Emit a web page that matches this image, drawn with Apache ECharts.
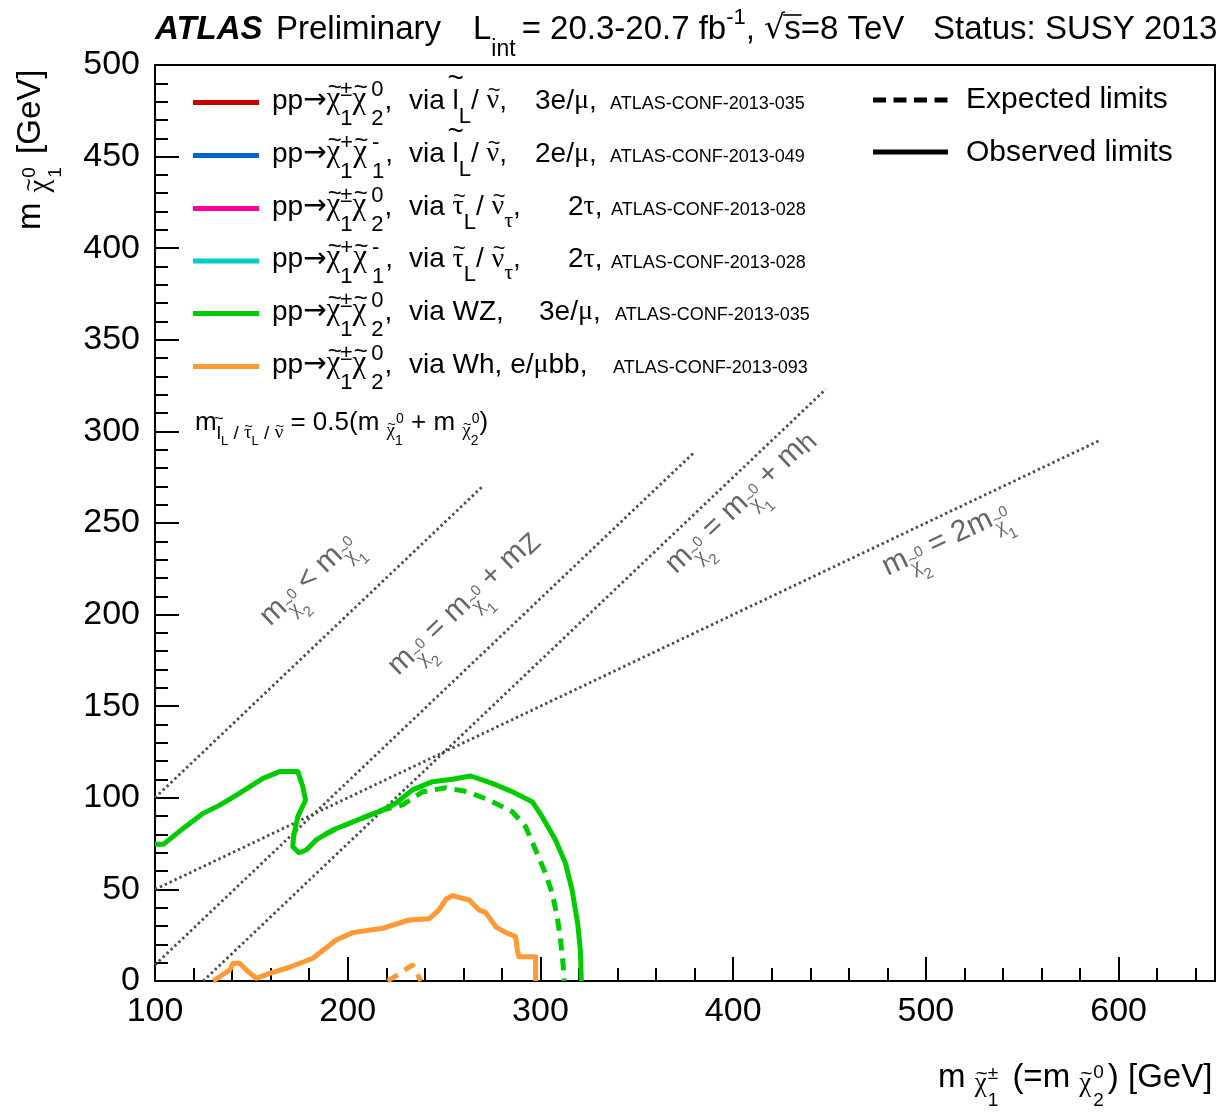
<!DOCTYPE html>
<html>
<head>
<meta charset="utf-8">
<script src="https://cdn.jsdelivr.net/npm/echarts@6/dist/echarts.min.js"></script>
<style>
  html, body { margin: 0; padding: 0; background: #ffffff; }
  #main { width: 1231px; height: 1113px; }
</style>
</head>
<body>
<div id="main"></div>
<script>
// ---- axis ticks (GeV) ----
const xMajorTicks = [100, 200, 300, 400, 500, 600];
const yMajorTicks = [0, 50, 100, 150, 200, 250, 300, 350, 400, 450, 500];

// ---- exclusion contours: [m(chargino) , m(LSP)] in GeV ----
// WZ-mediated, 3 leptons: observed
const wzObserved = [
  [100, 74.6], [104.3, 74.6], [114.6, 83.3], [125, 91.5], [133.6, 96], [142.3, 101.5],
  [156, 110.6], [164.7, 114.3], [174.1, 114.3], [176.7, 106], [178.1, 98.8], [174.1, 89.7],
  [171.9, 78.8], [171.5, 73.3], [174.7, 70], [178.5, 71.5], [183.6, 77], [192.2, 82.4],
  [200.9, 86.1], [209.5, 89.7], [218.1, 93.3], [225, 97], [233.6, 104.3], [244, 108.8],
  [254.3, 110.1], [263.8, 111.9], [275, 107.9], [285.4, 103.3], [295.7, 97.9], [300.9, 89.7],
  [307.8, 77], [313, 64.2], [316.4, 49.7], [319.3, 31.5], [320.7, 16.9], [321.2, 0]
];
// WZ-mediated, 3 leptons: expected
const wzExpected = [
  [188, 80], [200.9, 86.1], [209.5, 89.7], [218.1, 93.3], [228.4, 96.1], [238.8, 103.3],
  [250.9, 105.5], [262.1, 103.3], [273.3, 98.8], [285.4, 92.4], [292.3, 84.2], [297.5, 71.5],
  [302.6, 58.8], [306.1, 47.9], [308.7, 35.1], [310.4, 22.4], [311.7, 9.7], [312.3, 0]
];
// Wh-mediated, l+bb: observed
const whObserved = [
  [130.2, 0], [138.8, 6], [140.5, 9.7], [144, 9.7], [148.3, 5.1], [152.6, 1.5], [159.5, 4.2],
  [169.8, 7.5], [181.9, 12.4], [194, 22.4], [202.6, 26.4], [218.1, 28.8], [231.9, 33.3],
  [242.3, 34], [247.4, 38.8], [250.9, 44.6], [254.3, 46.6], [263, 44.2], [268.1, 38.8],
  [271.6, 37.3], [276.8, 29.6], [281.1, 26.9], [287.1, 24.2], [288, 16.9], [288.8, 13.3],
  [297.5, 13.3], [297.5, 0]
];
// Wh-mediated, l+bb: expected
const whExpected = [[220.7, 0], [233.6, 8.7], [238, 0]];

// ---- kinematic boundaries (end points) ----
const lineDegenerate = [[100, 100], [270, 270]];   // m(chi2) = m(chi1)
const lineMZ = [[100, 8.8], [380, 288.8]];          // m(chi2) = m(chi1) + mZ
const lineMH = [[125, 0], [448, 323]];              // m(chi2) = m(chi1) + mh
const lineHalf = [[100, 50], [590, 295]];           // m(chi2) = 2 m(chi1)

// anchor points (data coords) for the boundary captions
const capDegenerate = [160.5, 192.5];
const capMZ = [227, 165.5];
const capMH = [371, 221];
const capHalf = [480.5, 220];

// ---- colours ----
const C_RED = '#cc0000', C_BLUE = '#0066cc', C_MAGENTA = '#ff0099', C_CYAN = '#00cccc';
const C_GREEN = '#00cc00', C_ORANGE = '#ff9933';

const SANS = '"Liberation Sans", Arial, sans-serif';
const SERIF = '"Liberation Serif", "DejaVu Serif", serif';
const DEJAVU = '"DejaVu Sans", sans-serif';

// ---------- small typesetting helpers (baseline at y = 0) ----------
const mctx = document.createElement('canvas').getContext('2d');
function fontStr(p) {
  return (p.st || 'normal') + ' ' + (p.w || 'normal') + ' ' + p.f + 'px ' + (p.fam || SANS);
}
function measure(t, p) { mctx.font = fontStr(p); return mctx.measureText(t).width; }
function T(t, f, o) { return Object.assign({ t: t, f: f }, o || {}); }
function G(t, f, o) { return Object.assign({ t: t, f: f, fam: SERIF }, o || {}); }
// glyph with a tilde above it
function TL(t, f, o) { return Object.assign({ t: t, f: f, fam: SERIF, acc: '~', accF: f * 0.78, accH: f * 0.7, accDx: f * 0.04 }, o || {}); }
function SS(sup, sub, f, up, down, o) { return Object.assign({ sup: sup, sub: sub, f: f, up: up, down: down }, o || {}); }
function AT(x) { return { at: x }; }
function GAP(w) { return { gap: w }; }
function piece(t, x, yBase, p, color) {
  return {
    type: 'text', x: x, y: yBase - 0.345 * p.f, silent: true,
    style: {
      text: t, font: fontStr(p), fill: color,
      align: 'left', verticalAlign: 'middle', textAlign: 'left', textVerticalAlign: 'middle'
    }
  };
}
function accent(t, cx, cy, f, color) {
  return {
    type: 'text', x: cx, y: cy, silent: true,
    style: {
      text: t, font: 'normal normal ' + f + 'px ' + SANS, fill: color,
      align: 'center', verticalAlign: 'middle', textAlign: 'center', textVerticalAlign: 'middle'
    }
  };
}
function run(parts, color) {
  let x = 0; const out = [];
  for (const p of parts) {
    if (p.at !== undefined) { x = p.at; continue; }
    if (p.gap !== undefined) { x += p.gap; continue; }
    x += (p.pre || 0);
    if (p.sup !== undefined || p.sub !== undefined) {
      let w = 0;
      if (p.sup) { out.push(piece(p.sup, x + (p.supDx || 0), -p.up, p, color)); w = Math.max(w, measure(p.sup, p) + (p.supDx || 0)); }
      if (p.sub) { out.push(piece(p.sub, x, p.down, p, color)); w = Math.max(w, measure(p.sub, p)); }
      x += w + (p.after || 0);
    } else {
      const w = measure(p.t, p);
      out.push(piece(p.t, x, p.dy || 0, p, color));
      if (p.acc) out.push(accent(p.acc, x + w / 2 + (p.accDx || 0), (p.dy || 0) - p.accH, p.accF, color));
      if (p.over) {
        out.push({ type: 'line', silent: true, shape: { x1: x - 1, y1: -p.over, x2: x + w + 1, y2: -p.over }, style: { stroke: color, lineWidth: 1.6 } });
      }
      x += w + (p.after || 0);
    }
  }
  return out;
}
function textLine(x, y, parts, color, rot) {
  return { type: 'group', x: x, y: y, rotation: rot || 0, silent: true, children: run(parts, color || '#000') };
}

// ---------- chart ----------
const chart = echarts.init(document.getElementById('main'), null, { renderer: 'canvas' });

function kinLine(d) {
  return {
    type: 'line', data: d, xAxisIndex: 0, yAxisIndex: 0, showSymbol: false, silent: true, z: 2,
    lineStyle: { color: '#4a4a4a', width: 2.8, type: [2.4, 3.0], cap: 'butt' }
  };
}
function contour(d, color, dashed) {
  return {
    type: 'line', data: d, xAxisIndex: 0, yAxisIndex: 0, showSymbol: false, silent: true, z: 3,
    lineStyle: { color: color, width: 5, type: dashed ? [12, 8] : 'solid', join: 'round', cap: 'butt' }
  };
}

const axisFont = { fontFamily: SANS, fontSize: 34, color: '#000' };

chart.setOption({
  animation: false,
  backgroundColor: '#ffffff',
  grid: { left: 155, right: 16, top: 65, bottom: 132, show: true, borderColor: '#000', borderWidth: 2, backgroundColor: 'transparent' },
  xAxis: [
    {
      type: 'value', min: xMajorTicks[0], max: 650, interval: 100,
      axisLine: { show: true, onZero: false, lineStyle: { color: '#000', width: 2 } },
      axisTick: { show: true, inside: true, length: 24, lineStyle: { color: '#000', width: 2 } },
      axisLabel: Object.assign({ margin: 14, formatter: v => (xMajorTicks.indexOf(v) >= 0 ? String(v) : '') }, axisFont),
      splitLine: { show: false }
    },
    {
      type: 'value', min: xMajorTicks[0], max: 650, interval: 20, position: 'bottom',
      axisLine: { show: false }, axisLabel: { show: false }, splitLine: { show: false },
      axisTick: { show: true, inside: true, length: 13, lineStyle: { color: '#000', width: 2 } }
    }
  ],
  yAxis: [
    {
      type: 'value', min: 0, max: 500, interval: 50,
      axisLine: { show: true, onZero: false, lineStyle: { color: '#000', width: 2 } },
      axisTick: { show: true, inside: true, length: 24, lineStyle: { color: '#000', width: 2 } },
      axisLabel: Object.assign({ margin: 15, formatter: v => (yMajorTicks.indexOf(v) >= 0 ? String(v) : '') }, axisFont),
      splitLine: { show: false }
    },
    {
      type: 'value', min: 0, max: 500, interval: 10, position: 'left',
      axisLine: { show: false }, axisLabel: { show: false }, splitLine: { show: false },
      axisTick: { show: true, inside: true, length: 13, lineStyle: { color: '#000', width: 2 } }
    }
  ],
  series: [
    kinLine(lineDegenerate), kinLine(lineMZ), kinLine(lineMH), kinLine(lineHalf),
    contour(wzObserved, C_GREEN, false),
    contour(wzExpected, C_GREEN, true),
    contour(whObserved, C_ORANGE, false),
    contour(whExpected, C_ORANGE, true)
  ]
});

// ---------- text furniture ----------
const g = [];
const F = 28, FS = 22, FC = 18;

// header
g.push(textLine(0, 41, [
  AT(155), T('ATLAS', 33, { w: 'bold', st: 'italic' }),
  AT(276), T('Preliminary', 33),
  AT(473), T('L', 33), SS(null, 'int', 23, 0, 17, { after: 6 }),
  T('= 20.3-20.7 fb', 33), SS('-1', null, 22, 15, 0), T(', ', 33),
  T('√', 33, { fam: DEJAVU }), T('s', 33, { over: 26, pre: -1 }), T('=8 TeV', 33),
  AT(933), T('Status: SUSY 2013', 33)
]));

// legend colour keys
const keyColors = [C_RED, C_BLUE, C_MAGENTA, C_CYAN, C_GREEN, C_ORANGE];
const rowBase = [110.5, 163.5, 216.5, 269, 321.5, 374.5];
keyColors.forEach((c, i) => {
  g.push({ type: 'line', silent: true, shape: { x1: 193, y1: rowBase[i] - 8, x2: 259, y2: rowBase[i] - 8 }, style: { stroke: c, lineWidth: 5 } });
});

function prod(supA, subA, supB, subB) {
  return [AT(272), T('pp', F), T('→', F, { fam: DEJAVU }), TL('χ', 31),
    SS(supA, subA, FS, 13, 16), TL('χ', 31), SS(supB, subB, FS, 13, 16, { pre: 5 }), T(',', F, { pre: 1 })];
}
const conf = (x, id) => [AT(x), T('ATLAS-CONF-2013-' + id, FC)];
const lTilde = () => T('l', F, { acc: '~', accF: 28, accH: 31, accDx: 0 });

g.push(textLine(0, rowBase[0], [].concat(prod('±', '1', '0', '2'),
  [AT(409), T('via ', F), lTilde(), SS(null, 'L', FS, 0, 14), T('/ ', F), TL('ν', F), T(',', F),
   AT(535), T('3e/', F), G('μ', F), T(',', F)], conf(610, '035'))));
g.push(textLine(0, rowBase[1], [].concat(prod('+', '1', '-', '1'),
  [AT(409), T('via ', F), lTilde(), SS(null, 'L', FS, 0, 14), T('/ ', F), TL('ν', F), T(',', F),
   AT(535), T('2e/', F), G('μ', F), T(',', F)], conf(610, '049'))));
g.push(textLine(0, rowBase[2], [].concat(prod('±', '1', '0', '2'),
  [AT(409), T('via ', F), TL('τ', F), SS(null, 'L', FS, 0, 14), T('/ ', F), TL('ν', F), SS(null, 'τ', FS, 0, 12, { fam: SERIF }), T(',', F),
   AT(568), T('2', F), G('τ', F), T(',', F)], conf(611, '028'))));
g.push(textLine(0, rowBase[3], [].concat(prod('+', '1', '-', '1'),
  [AT(409), T('via ', F), TL('τ', F), SS(null, 'L', FS, 0, 14), T('/ ', F), TL('ν', F), SS(null, 'τ', FS, 0, 12, { fam: SERIF }), T(',', F),
   AT(568), T('2', F), G('τ', F), T(',', F)], conf(611, '028'))));
g.push(textLine(0, rowBase[4], [].concat(prod('±', '1', '0', '2'),
  [AT(409), T('via WZ,', F), AT(539), T('3e/', F), G('μ', F), T(',', F)], conf(615, '035'))));
g.push(textLine(0, rowBase[5], [].concat(prod('±', '1', '0', '2'),
  [AT(409), T('via Wh, e/', F), G('μ', F), T('bb,', F)], conf(613, '093'))));

// expected / observed key
g.push({ type: 'line', silent: true, shape: { x1: 873, y1: 100, x2: 948, y2: 100 }, style: { stroke: '#000', lineWidth: 5, lineDash: [13, 7.5] } });
g.push({ type: 'line', silent: true, shape: { x1: 873, y1: 152, x2: 948, y2: 152 }, style: { stroke: '#000', lineWidth: 5 } });
g.push(textLine(966, 110, [T('Expected limits', 30)]));
g.push(textLine(966, 163, [T('Observed limits', 30)]));

// slepton mass assumption
g.push(textLine(195, 432, [
  T('m', 26), T('l', 19, { dy: 8, acc: '~', accF: 17, accH: 21 }), SS(null, 'L', 13, 0, 14), T(' / ', 19, { dy: 8 }),
  TL('τ', 19, { dy: 8 }), SS(null, 'L', 13, 0, 14), T(' / ', 19, { dy: 8 }), TL('ν', 19, { dy: 8 }),
  T(' = 0.5(m ', 26), TL('χ', 19, { dy: 6 }), SS('0', '1', 14, 8, 14, { supDx: 1 }),
  T(' + m ', 26), TL('χ', 19, { dy: 6 }), SS('0', '2', 14, 8, 14, { supDx: 1 }), T(')', 26)
]));

// axis titles
g.push(textLine(938, 1089, [
  T('m ', 33), TL('χ', 27, { dy: 4 }), SS('±', '1', 19, 9, 18, { pre: 1 }), T(' (=m ', 33, { pre: 5 }),
  TL('χ', 27, { dy: 4 }), SS('0', '2', 19, 10, 18, { pre: 2 }), T(') [GeV]', 33, { pre: 4 })
]));
g.push(textLine(42, 230, [
  T('m', 33), GAP(10), TL('χ', 29, { dy: 8 }), SS('0', '1', 19, 6, 20, { pre: 2 }), T(' [GeV]', 33, { pre: 4 })
], '#000', Math.PI / 2));

// captions along kinematic boundaries
const capF = 30;
const mchi = (k) => [T('m', capF), TL('χ', 21, { dy: 9 }), SS('0', k, 15, 5, 19)];
const capSpecs = [
  [capDegenerate, lineDegenerate, [].concat(mchi('2'), [T(' < m', capF), TL('χ', 21, { dy: 9 }), SS('0', '1', 15, 5, 19)])],
  [capMZ, lineMZ, [].concat(mchi('2'), [T(' = m', capF), TL('χ', 21, { dy: 9 }), SS('0', '1', 15, 5, 19), T(' + m', capF), T('Z', 27, { dy: 3 })])],
  [capMH, lineMH, [].concat(mchi('2'), [T(' = m', capF), TL('χ', 21, { dy: 9 }), SS('0', '1', 15, 5, 19), T(' + m', capF), T('h', 27, { dy: 3 })])],
  [capHalf, lineHalf, [].concat(mchi('2'), [T(' = 2m', capF), TL('χ', 21, { dy: 9 }), SS('0', '1', 15, 5, 19)])]
];
capSpecs.forEach(([anchor, ends, parts]) => {
  const p = chart.convertToPixel({ seriesIndex: 4 }, anchor);
  const a = chart.convertToPixel({ seriesIndex: 4 }, ends[0]);
  const b = chart.convertToPixel({ seriesIndex: 4 }, ends[1]);
  const ang = Math.atan2(a[1] - b[1], b[0] - a[0]);
  g.push(textLine(p[0], p[1], parts, '#666666', ang));
});

chart.setOption({ graphic: { elements: g } });
</script>
</body>
</html>
